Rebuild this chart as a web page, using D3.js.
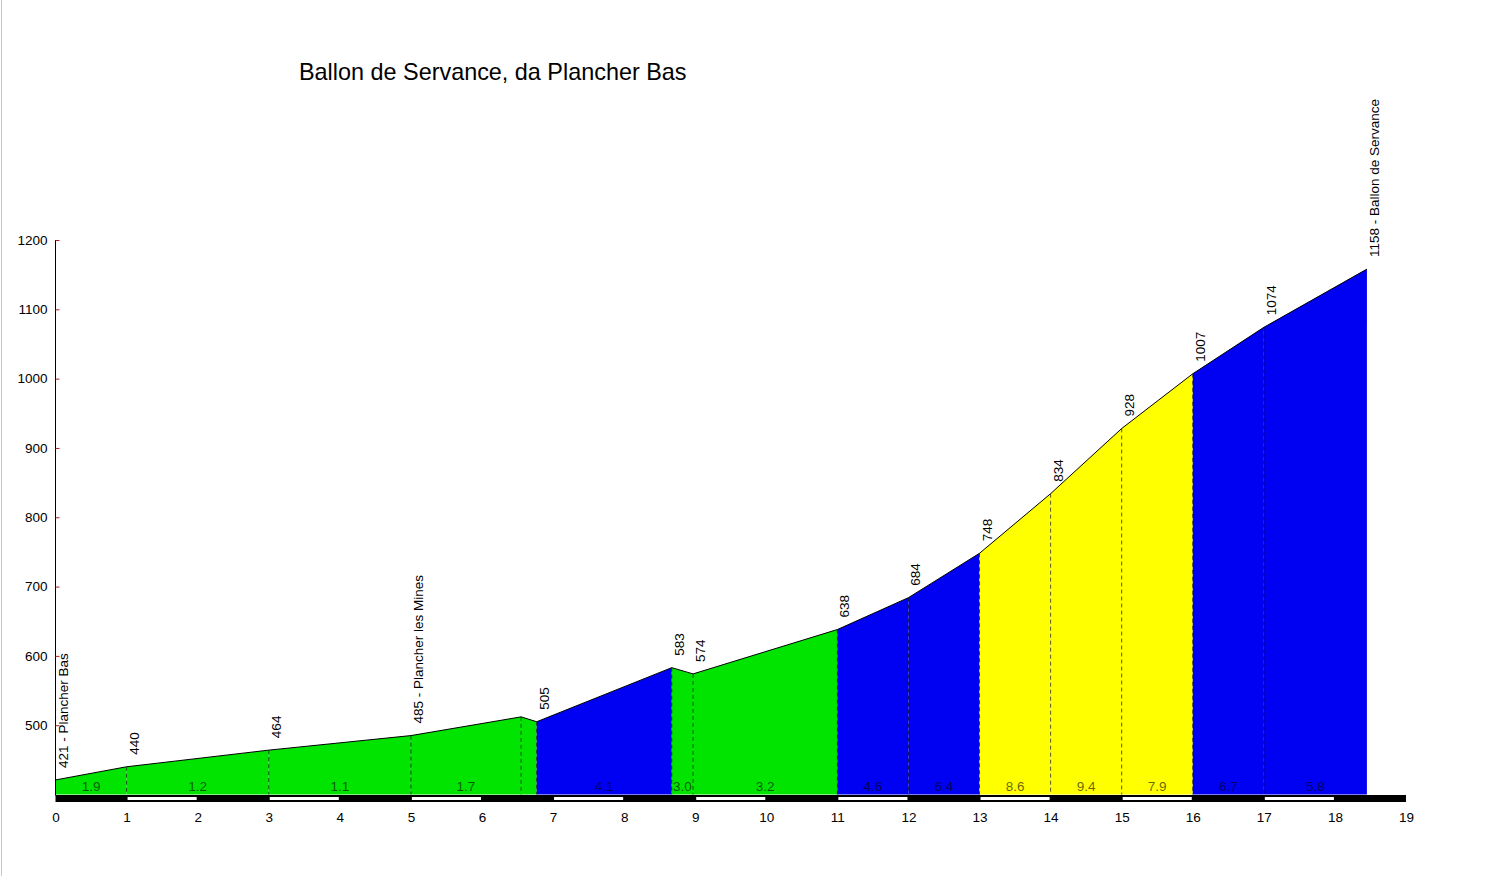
<!DOCTYPE html>
<html>
<head>
<meta charset="utf-8">
<script src="https://cdn.jsdelivr.net/npm/d3@7"></script>
<style>
  body { margin: 0; background: #fff; }
  svg { display: block; font-family: "Liberation Sans", Arial, sans-serif; }
  .tick text { font-size: 13.5px; fill: #000; }
</style>
</head>
<body>
<svg class="profile" width="1488" height="876"></svg>
<script>
// profile points: distance (km) and altitude (m)
const km = [0, 1, 3, 5, 6.55, 6.77, 8.67, 8.97, 11, 12, 13, 14, 15, 16, 17, 18.45];
const elev = [421, 440, 464, 485, 512, 505, 583, 574, 638, 684, 748, 834, 928, 1007, 1074, 1158];
const pointLabels = ["421 - Plancher Bas", "440", "464", "485 - Plancher les Mines", "", "505", "583", "574",
                     "638", "684", "748", "834", "928", "1007", "1074", "1158 - Ballon de Servance"];
// gradient (%) shown for each segment
const gradLabels = ["1.9", "1.2", "1.1", "1.7", "", "4.1", "3.0", "3.2", "4.6", "6.4", "8.6", "9.4", "7.9", "6.7", "5.8"];
const yTicks = [500, 600, 700, 800, 900, 1000, 1100, 1200];
const xTicks = d3.range(0, 20);
const title = "Ballon de Servance, da Plancher Bas";

function slopeColor(g) {
  let a = Math.abs(g);
  if (a < 4) return "#00e400";
  if (a < 7) return "#0000f2";
  return "#ffff00";
}

var svg = d3.select(".profile");

var xScale = d3.scaleLinear().domain([0, 19]).range([55.5, 1406]);
var yScale = d3.scaleLinear().domain([400, 1200]).range([794.5, 240]);

// left border of the picture
svg.append("line")
   .attr("x1", 1.5).attr("x2", 1.5)
   .attr("y1", 0).attr("y2", 876)
   .attr("stroke", "#c8c8c8");

svg.append("text")
   .attr("x", 299)
   .attr("y", 80)
   .attr("font-size", 23.4)
   .text(title);

let points = km.map((k, i) => ({k: k, e: elev[i]}));

let area = d3.area()
  .x(d => xScale(d.k))
  .y0(yScale(400))
  .y1(d => yScale(d.e));

// coloured segments
for (let i = 0; i < points.length - 1; i++) {
  let p1 = points[i], p2 = points[i + 1];
  let grad = (p2.e - p1.e) / ((p2.k - p1.k) * 10);
  svg.append("path")
     .datum([p1, p2])
     .attr("fill", slopeColor(grad))
     .attr("d", area);
}

// dashed verticals at each point
for (let i = 1; i < points.length - 1; i++) {
  svg.append("line")
     .attr("x1", xScale(points[i].k)).attr("x2", xScale(points[i].k))
     .attr("y1", yScale(points[i].e)).attr("y2", yScale(400))
     .attr("stroke", "#000")
     .attr("stroke-opacity", 0.65)
     .attr("stroke-dasharray", "4,3");
}

// outline
svg.append("path")
   .datum(points)
   .attr("fill", "none")
   .attr("stroke", "#000")
   .attr("stroke-width", 1)
   .attr("d", d3.line().x(d => xScale(d.k)).y(d => yScale(d.e)));

// gradient labels
for (let i = 0; i < gradLabels.length; i++) {
  svg.append("text")
     .attr("x", xScale((points[i].k + points[i + 1].k) / 2))
     .attr("y", 791)
     .attr("text-anchor", "middle")
     .attr("font-size", 13.5)
     .attr("fill", "#000")
     .attr("fill-opacity", 0.62)
     .text(gradLabels[i]);
}

// altitude labels
for (let i = 0; i < points.length; i++) {
  if (!pointLabels[i]) continue;
  let px = xScale(points[i].k) + 12;
  let py = yScale(points[i].e) - 12;
  svg.append("text")
     .attr("transform", `translate(${px}, ${py}) rotate(-90)`)
     .attr("font-size", 13.5)
     .text(pointLabels[i]);
}

// km bar
svg.append("rect")
   .attr("x", xScale(0))
   .attr("y", 795)
   .attr("width", xScale(19) - xScale(0))
   .attr("height", 7)
   .attr("fill", "#000");
for (let k = 1; k < 19; k += 2) {
  svg.append("rect")
     .attr("x", xScale(k) + 1)
     .attr("y", 797)
     .attr("width", xScale(k + 1) - xScale(k) - 2)
     .attr("height", 3)
     .attr("fill", "#fff");
}

// y axis
let yAxis = svg.append("g")
   .attr("transform", "translate(55.5, 0)")
   .call(d3.axisLeft(yScale).tickValues(yTicks).tickFormat(d3.format("d"))
           .tickSizeInner(-4).tickSizeOuter(0).tickPadding(8));
yAxis.select(".domain").attr("stroke", "#000").attr("d", `M0,${yScale(400) + 1}V240`);
yAxis.selectAll(".tick line").attr("stroke", "#b02020");

// x axis
let xAxis = svg.append("g")
   .attr("transform", "translate(0, 802)")
   .call(d3.axisBottom(xScale).tickValues(xTicks).tickSize(0).tickPadding(10));
xAxis.select(".domain").remove();
</script>
</body>
</html>
